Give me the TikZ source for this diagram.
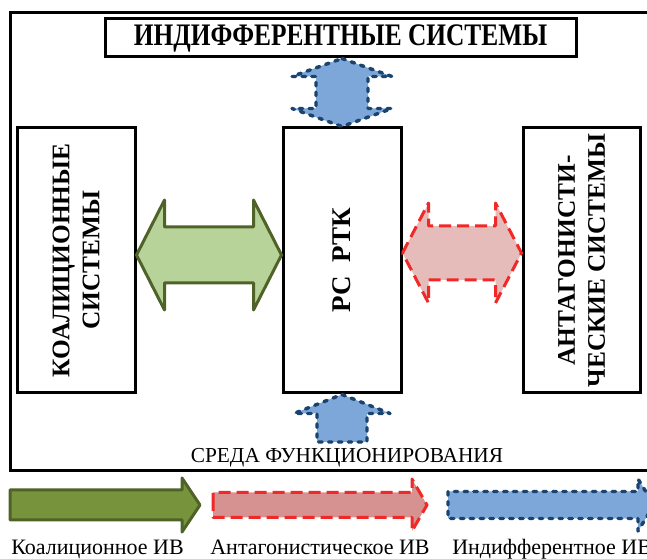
\documentclass[tikz,border=0pt]{standalone}
\usepackage{graphicx}
\usepackage{fontspec}
\setmainfont{Liberation Serif}
\usetikzlibrary{calc}

\definecolor{grnline}{RGB}{79,98,40}
\definecolor{grnfill}{RGB}{183,211,154}
\definecolor{grnleg}{RGB}{119,147,60}
\definecolor{redline}{RGB}{240,40,40}
\definecolor{redfill}{RGB}{230,188,186}
\definecolor{redleg}{RGB}{214,146,144}
\definecolor{blueline}{RGB}{26,67,112}
\definecolor{bluefill}{RGB}{124,167,216}

\tikzset{
  sysbox/.style={draw, line width=2.25pt, inner sep=0pt, minimum width=88.5pt, minimum height=198.75pt},
  systext/.style={font=\fontsize{19}{22.5}\selectfont\bfseries, align=center, rotate=90},
  koalarrow/.style={draw=grnline, fill=grnfill, line width=2.25pt, line join=round},
  antarrow/.style={draw=redline, fill=redfill, line width=2.25pt, line join=round, dash pattern=on 9pt off 4.5pt},
  indarrow/.style={draw=blueline, fill=bluefill, line width=2.6pt, line cap=round, line join=round, dash pattern=on 2.6pt off 4.8pt},
  legtext/.style={font=\fontsize{16.5}{18}\selectfont, inner sep=0pt}
}

\begin{document}
\begin{tikzpicture}[x=0.75pt,y=0.75pt,yscale=-1,xscale=1]
\useasboundingbox (0,0) rectangle (647,559);

% Frame of the environment
\node[draw, line width=2.25pt, inner sep=0pt, minimum width=483.75pt, minimum height=343.5pt] (env) at (332.5,242) {};

% Boxes
\node[draw, line width=2.25pt, inner sep=0pt, minimum width=353.25pt, minimum height=28.5pt,
  font=\fontsize{23.5}{26}\selectfont\bfseries] (indif) at (340.5,38) {\scalebox{0.81}[1]{ИНДИФФЕРЕНТНЫЕ СИСТЕМЫ}};
\node[sysbox] (koal) at (76,260.5) {};
\node[systext] at (koal.center) {КОАЛИЦИОННЫЕ\\СИСТЕМЫ};
\node[sysbox] (rs) at (342,260.5) {};
\node[systext, font=\fontsize{20.25}{24}\selectfont\bfseries] at (rs.center) {РС\ \ РТК};
\node[sysbox, minimum width=87.75pt] (ant) at (581.5,260.5) {};
\node[systext] at (ant.center) {АНТАГОНИСТИ-\\ЧЕСКИЕ СИСТЕМЫ};

% Text Node
\node[legtext, font=\fontsize{16}{18}\selectfont, anchor=base] (envlab) at (347,463) {СРЕДА ФУНКЦИОНИРОВАНИЯ};

% Block arrows between the boxes
\coordinate (t1) at (rs.north |- indif.south);
\coordinate (t2) at (rs.north);
\draw[indarrow] (t1) -- ++(50,18) -- ++(-24,0) -- ($(t2)+(26,-18)$) -- ++(24,0) -- (t2)
  -- ++(-50,-18) -- ++(24,0) -- ($(t1)+(-26,18)$) -- ++(-24,0) -- cycle;

\coordinate (b1) at (rs.south);
\coordinate (b2) at (342,442);
\draw[indarrow] (b1) -- ++(48,19) -- ++(-23,0) -- ($(b2)+(25,0)$) -- ($(b2)+(-25,0)$)
  -- ($(b1)+(-25,19)$) -- ++(-23,0) -- cycle;

\coordinate (g1) at (koal.east |- 0,255);
\coordinate (g2) at (rs.west |- 0,255);
\draw[koalarrow] (g1) -- ++(28,-55) -- ++(0,27) -- ($(g2)+(-28,-28)$) -- ++(0,-27) -- (g2)
  -- ++(-28,55) -- ++(0,-27) -- ($(g1)+(28,28)$) -- ++(0,27) -- cycle;

\coordinate (r1) at (rs.east |- 0,253);
\coordinate (r2) at (ant.west |- 0,253);
\draw[antarrow] (r1) -- ++(26,-50) -- ++(0,23) -- ($(r2)+(-26,-27)$) -- ++(0,-23) -- (r2)
  -- ++(-26,50) -- ++(0,-23) -- ($(r1)+(26,27)$) -- ++(0,23) -- cycle;

% Legend
\coordinate (k1) at (10,505);
\coordinate (k2) at (200,505);
\draw[koalarrow, fill=grnleg] (k1) -- ++(0,-15) -- ($(k2)+(-18,-15)$) -- ++(0,-12) -- (k2)
  -- ++(-18,27) -- ++(0,-12) -- ($(k1)+(0,15)$) -- cycle;
\coordinate (a1) at (213,505);
\coordinate (a2) at (427,505);
\draw[antarrow, fill=redleg] (a1) -- ++(0,-12.5) -- ($(a2)+(-15,-12.5)$) -- ++(0,-13.5) -- (a2)
  -- ++(-15,26) -- ++(0,-13.5) -- ($(a1)+(0,12.5)$) -- cycle;
\coordinate (i1) at (448,505);
\coordinate (i2) at (654,505);
\draw[indarrow] (i1) -- ++(0,-13.5) -- ($(i2)+(-16,-13.5)$) -- ++(0,-12.5) -- (i2)
  -- ++(-16,26) -- ++(0,-12.5) -- ($(i1)+(0,13.5)$) -- cycle;

\node[legtext, anchor=base] (klab) at (97.5,555) {Коалиционное ИВ};
\node[legtext, anchor=base] (alab) at (320,555) {Антагонистическое ИВ};
\node[legtext, anchor=base west] (ilab) at (452,555) {Индифферентное ИВ};

\end{tikzpicture}
\end{document}
